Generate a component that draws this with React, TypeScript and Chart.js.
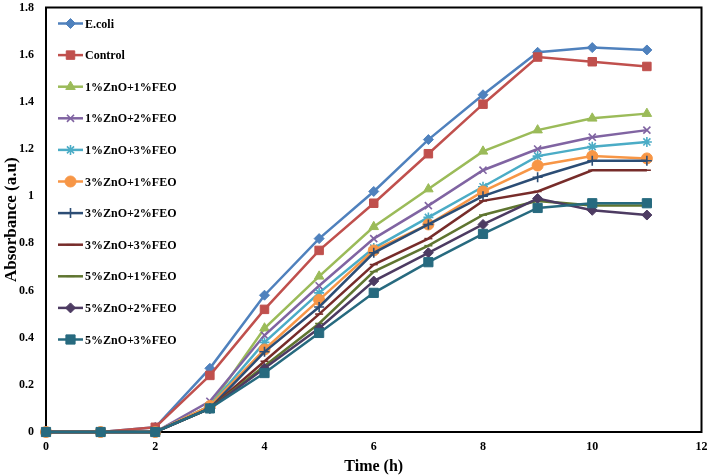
import React, { useEffect, useRef } from 'react';
import { Chart, registerables } from 'chart.js';
import { drawPoint } from 'chart.js/helpers';

Chart.register(...registerables);

const times = [0, 1, 2, 3, 4, 5, 6, 7, 8, 9, 10, 11];
const seriesNames = [
  'E.coli', 'Control', '1%ZnO+1%FEO', '1%ZnO+2%FEO', '1%ZnO+3%FEO',
  '3%ZnO+1%FEO', '3%ZnO+2%FEO', '3%ZnO+3%FEO', '5%ZnO+1%FEO', '5%ZnO+2%FEO', '5%ZnO+3%FEO',
];
const ecoli = [0, 0, 0.02, 0.27, 0.58, 0.82, 1.02, 1.24, 1.43, 1.61, 1.63, 1.62];
const control = [0, 0, 0.02, 0.24, 0.52, 0.77, 0.97, 1.18, 1.39, 1.59, 1.57, 1.55];
const zno1feo1 = [0, 0, 0, 0.11, 0.44, 0.66, 0.87, 1.03, 1.19, 1.28, 1.33, 1.35];
const zno1feo2 = [0, 0, 0, 0.13, 0.41, 0.62, 0.82, 0.96, 1.11, 1.2, 1.25, 1.28];
const zno1feo3 = [0, 0, 0, 0.11, 0.38, 0.59, 0.78, 0.91, 1.04, 1.17, 1.21, 1.23];
const zno3feo1 = [0, 0, 0, 0.11, 0.35, 0.56, 0.77, 0.88, 1.02, 1.13, 1.17, 1.16];
const zno3feo2 = [0, 0, 0, 0.1, 0.34, 0.53, 0.76, 0.88, 1.0, 1.08, 1.15, 1.15];
const zno3feo3 = [0, 0, 0, 0.1, 0.3, 0.5, 0.71, 0.82, 0.98, 1.02, 1.11, 1.11];
const zno5feo1 = [0, 0, 0, 0.1, 0.28, 0.46, 0.68, 0.79, 0.92, 0.98, 0.96, 0.96];
const zno5feo2 = [0, 0, 0, 0.1, 0.27, 0.44, 0.64, 0.76, 0.88, 0.99, 0.94, 0.92];
const zno5feo3 = [0, 0, 0, 0.1, 0.25, 0.42, 0.59, 0.72, 0.84, 0.95, 0.97, 0.97];
const seriesValues = [ecoli, control, zno1feo1, zno1feo2, zno1feo3, zno3feo1, zno3feo2, zno3feo3, zno5feo1, zno5feo2, zno5feo3];

const xTicks = [0, 2, 4, 6, 8, 10, 12];
const yTicks = [0, 0.2, 0.4, 0.6, 0.8, 1, 1.2, 1.4, 1.6, 1.8];

const colors = ['#4F81BD', '#C0504D', '#9BBB59', '#8064A2', '#4BACC6', '#F79646', '#2C4D75', '#772C2A', '#5F7530', '#4D3B62', '#276A7F'];
const markers = ['rectRot', 'rect', 'triangle', 'crossRot', 'star', 'circle', 'cross', 'line', 'line', 'rectRot', 'rect'];
const markerRadius = [5, 6, 5.5, 5, 5, 5.5, 5, 4, 4, 5, 6.5];
const strokeMarkers = ['crossRot', 'star', 'cross', 'line'];

const FONT = '"Liberation Serif", "Times New Roman", serif';

const frameAndLegend = {
  id: 'frameAndLegend',
  beforeDatasetsDraw(chart: any) {
    const { ctx, chartArea } = chart;
    ctx.save();
    ctx.strokeStyle = '#000';
    ctx.lineWidth = 2;
    ctx.strokeRect(chartArea.left, chartArea.top, chartArea.right - chartArea.left, chartArea.bottom - chartArea.top);
    ctx.restore();
  },
  afterDraw(chart: any) {
    const { ctx, chartArea } = chart;
    ctx.save();
    chart.data.datasets.forEach((ds: any, i: number) => {
      const y = chartArea.top + 16 + i * 31.6;
      const x0 = chartArea.left + 12;
      const x1 = chartArea.left + 37;
      ctx.strokeStyle = ds.borderColor;
      ctx.lineWidth = 2.5;
      ctx.beginPath();
      ctx.moveTo(x0, y);
      ctx.lineTo(x1, y);
      ctx.stroke();
      ctx.fillStyle = ds.pointBackgroundColor;
      ctx.strokeStyle = ds.pointBorderColor;
      ctx.lineWidth = ds.pointBorderWidth;
      drawPoint(ctx, { pointStyle: ds.pointStyle, rotation: 0, radius: ds.pointRadius, borderWidth: ds.pointBorderWidth } as any, (x0 + x1) / 2, y);
      ctx.fillStyle = '#000';
      ctx.font = `bold 12px ${FONT}`;
      ctx.textAlign = 'left';
      ctx.textBaseline = 'middle';
      ctx.fillText(ds.label, x1 + 2, y + 1);
    });
    ctx.restore();
  },
};

export default function App() {
  const canvasRef = useRef<HTMLCanvasElement>(null);

  useEffect(() => {
    document.body.style.margin = '0';
    const canvas = canvasRef.current;
    if (!canvas) return;
    const n = seriesNames.length;
    const datasets = seriesNames.map((name, i) => {
      const stroke = strokeMarkers.includes(markers[i]);
      return {
        label: name,
        data: times.map((t, j) => ({ x: t, y: seriesValues[i][j] })),
        borderColor: colors[i],
        backgroundColor: colors[i],
        borderWidth: 2.5,
        pointStyle: markers[i],
        pointRadius: markerRadius[i],
        pointBackgroundColor: colors[i],
        pointBorderColor: colors[i],
        pointBorderWidth: stroke ? 1.6 : 1,
        tension: 0,
        clip: false,
        order: n - i,
      };
    });

    const chart = new Chart(canvas, {
      type: 'line',
      data: { datasets: datasets as any },
      plugins: [frameAndLegend],
      options: {
        responsive: false,
        animation: false,
        layout: { padding: { top: 4, right: 7, left: 0, bottom: 0 } },
        plugins: { legend: { display: false }, tooltip: { enabled: false } },
        scales: {
          x: {
            type: 'linear',
            min: 0,
            max: 12,
            afterBuildTicks: (scale: any) => { scale.ticks = xTicks.map((v) => ({ value: v })); },
            afterFit: (scale: any) => { scale.height = 44; scale.paddingLeft = 0; scale.paddingRight = 0; },
            grid: { display: false, drawTicks: false },
            border: { display: true, color: '#000', width: 2 },
            ticks: { color: '#000', padding: 8, font: { family: FONT, size: 12, weight: 'bold' }, maxRotation: 0 },
            title: { display: true, text: 'Time (h)', color: '#000', padding: { top: 0, bottom: 0 }, font: { family: FONT, size: 16, weight: 'bold' } },
          },
          y: {
            type: 'linear',
            min: 0,
            max: 1.8,
            afterBuildTicks: (scale: any) => { scale.ticks = yTicks.map((v) => ({ value: v })); },
            afterFit: (scale: any) => { scale.width = 46; scale.paddingTop = 0; scale.paddingBottom = 0; },
            grid: { display: false, drawTicks: false },
            border: { display: true, color: '#000', width: 2 },
            ticks: { color: '#000', padding: 12, font: { family: FONT, size: 12, weight: 'bold' }, callback: (v: any) => String(Math.round(Number(v) * 10) / 10) },
            title: { display: true, text: 'Absorbance (a.u)', color: '#000', padding: { top: 1, bottom: 0 }, font: { family: FONT, size: 17, weight: 'bold' } },
          },
        },
      },
    });
    return () => chart.destroy();
  }, []);

  return (
    <div style={{ width: 709, height: 476 }}>
      <canvas ref={canvasRef} width={709} height={476} />
    </div>
  );
}
